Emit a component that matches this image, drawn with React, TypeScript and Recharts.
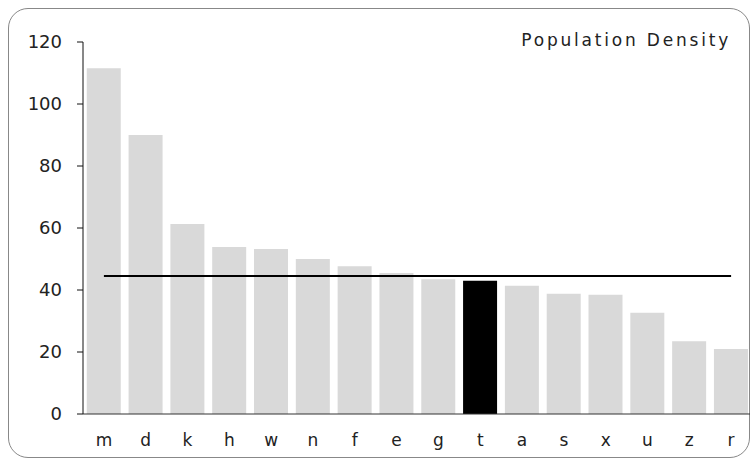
import { Bar, BarChart, Cell, ReferenceLine, XAxis, YAxis } from 'recharts';

const letters = ['m', 'd', 'k', 'h', 'w', 'n', 'f', 'e', 'g', 't', 'a', 's', 'x', 'u', 'z', 'r'];
const density = [111.5, 90, 61.3, 53.9, 53.2, 50, 47.7, 45.5, 43.5, 43, 41.4, 38.8, 38.5, 32.7, 23.5, 21];
const highlighted = 't';
const median = 44.5;
const yTicks = [0, 20, 40, 60, 80, 100, 120];

const rows = letters.map((name, i) => ({ name, value: density[i] }));

const font = '"DejaVu Sans", Verdana, sans-serif';

export default function App() {
  return (
    <div style={{ position: 'absolute', left: 0, top: 0, width: 750, height: 459, overflow: 'hidden', background: '#fff' }}>
      <div
        style={{
          position: 'absolute',
          left: 8,
          top: 8,
          width: 742,
          height: 450,
          boxSizing: 'border-box',
          border: '1px solid #888',
          borderRadius: 20,
        }}
      />
      <div
        style={{
          position: 'absolute',
          right: 19,
          top: 30,
          fontFamily: font,
          fontSize: 17,
          letterSpacing: 2.8,
          color: '#222',
          whiteSpace: 'nowrap',
        }}
      >
        Population Density
      </div>
      <div style={{ position: 'absolute', left: 0, top: 0 }}>
        <BarChart
          width={752}
          height={459}
          data={rows}
          margin={{ top: 42, right: 0, bottom: 15, left: 0 }}
          barCategoryGap="9%"
        >
          <XAxis
            dataKey="name"
            tickLine={false}
            tickSize={6}
            tickMargin={14}
            height={30}
            stroke="#333"
            tick={{ fill: '#222', fontSize: 17, fontFamily: font }}
          />
          <YAxis
            domain={[0, 120]}
            ticks={yTicks}
            width={83}
            tickSize={6}
            tickMargin={15}
            stroke="#111"
            tick={{ fill: '#222', fontSize: 18, fontFamily: font }}
          />
          <Bar dataKey="value" isAnimationActive={false}>
            {rows.map((r) => (
              <Cell key={r.name} fill={r.name === highlighted ? '#000' : '#d9d9d9'} />
            ))}
          </Bar>
          <ReferenceLine
            segment={[
              { x: letters[0], y: median },
              { x: letters[letters.length - 1], y: median },
            ]}
            stroke="#000"
            strokeWidth={2}
          />
        </BarChart>
      </div>
    </div>
  );
}
